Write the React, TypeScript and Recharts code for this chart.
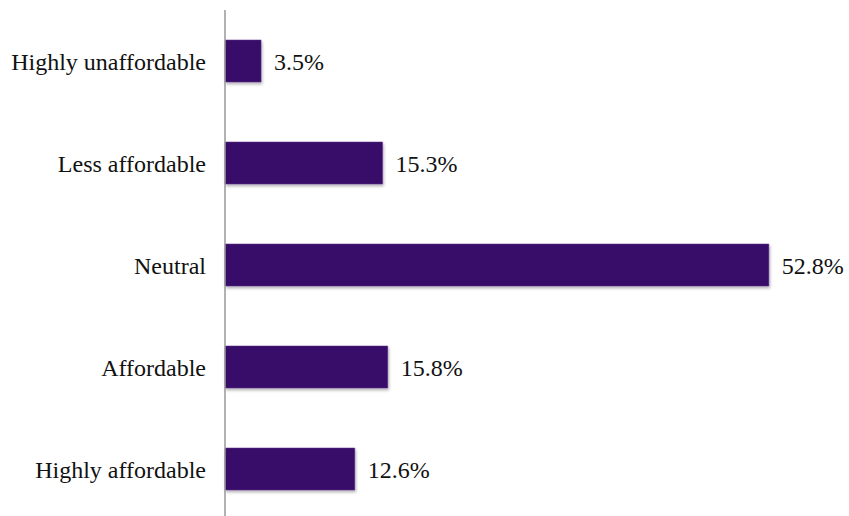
import React from "react";
import { BarChart, Bar, XAxis, YAxis, LabelList } from "recharts";

const categories = [
  "Highly unaffordable",
  "Less affordable",
  "Neutral",
  "Affordable",
  "Highly affordable",
];
const shares = [3.5, 15.3, 52.8, 15.8, 12.6];

const data = categories.map((name, i) => ({ name, value: shares[i] }));

const FONT = '"Liberation Serif", "Times New Roman", serif';

export default function App() {
  return (
    <div style={{ position: "absolute", left: 0, top: 0, width: 849, height: 516, overflow: "hidden", background: "#fff" }}>
      <BarChart
        width={849}
        height={530}
        data={data}
        layout="vertical"
        margin={{ top: 10, right: 6, bottom: 10, left: 0 }}
      >
        <defs>
          <filter id="shadow" x="-5%" y="-10%" width="115%" height="130%">
            <feDropShadow dx="1" dy="2" stdDeviation="1.5" floodColor="#000" floodOpacity="0.3" />
          </filter>
        </defs>
        <XAxis type="number" domain={[0, 60]} hide />
        <YAxis
          type="category"
          dataKey="name"
          width={225}
          axisLine={{ stroke: "#999", strokeWidth: 1.5 }}
          tickLine={false}
          tickSize={0}
          tickMargin={19}
          tick={{ fill: "#111", fontSize: 24, fontFamily: FONT }}
          interval={0}
        />
        <Bar dataKey="value" barSize={42} fill="#390f6a" stroke="#5a2a8a" strokeWidth={0.5} filter="url(#shadow)" isAnimationActive={false}>
          <LabelList
            dataKey="value"
            position="right"
            offset={13}
            formatter={(v: number) => `${v.toFixed(1)}%`}
            style={{ fill: "#111", fontSize: 24, fontFamily: FONT }}
          />
        </Bar>
      </BarChart>
    </div>
  );
}
